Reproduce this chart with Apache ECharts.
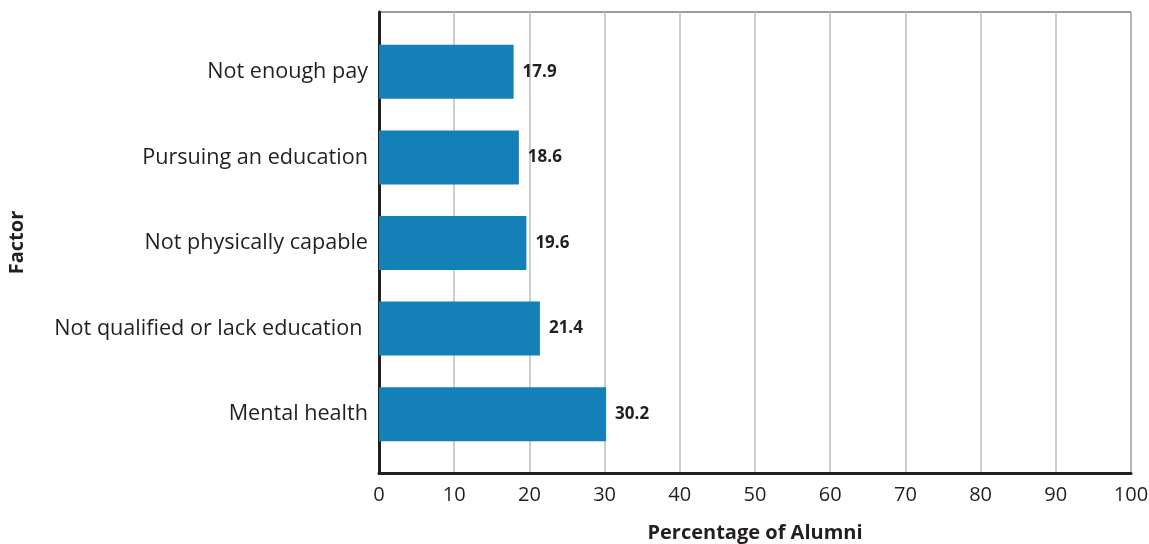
<!DOCTYPE html>
<html>
<head>
<meta charset="utf-8">
<script src="https://cdn.jsdelivr.net/npm/echarts@6/dist/echarts.min.js"></script>
<style>html,body{margin:0;padding:0;background:#fff}#c{width:1149px;height:544px}</style>
</head>
<body>
<div id="c"></div>
<script>
const categories = ['Mental health', 'Not qualified or lack education ', 'Not physically capable', 'Pursuing an education', 'Not enough pay'];
const values = [30.2, 21.4, 19.6, 18.6, 17.9];
const xTicks = [0, 10, 20, 30, 40, 50, 60, 70, 80, 90, 100];
const xAxisTitle = 'Percentage of Alumni';
const yAxisTitle = 'Factor';

const font = '"Open Sans", "Noto Sans", sans-serif';
const chart = echarts.init(document.getElementById('c'));
chart.setOption({
  animation: false,
  grid: [
    {left: 379, right: 18, top: 12, bottom: 71, show: true, borderColor: '#3a3a3a', borderWidth: 1, containLabel: false, outerBoundsMode: 'none'},
    {left: 379, right: 18, top: 29, bottom: 87, containLabel: false, outerBoundsMode: 'none'}
  ],
  xAxis: [
    {gridIndex: 0, type: 'value', min: xTicks[0], max: xTicks[xTicks.length - 1], interval: 10,
     axisLine: {show: true, lineStyle: {color: '#231f20', width: 3}},
     axisTick: {show: false},
     axisLabel: {color: '#231f20', fontSize: 20, fontFamily: font, margin: 12},
     splitLine: {show: true, lineStyle: {color: '#bdbdbd', width: 1.5}},
     name: xAxisTitle, nameLocation: 'middle', nameGap: 50,
     nameTextStyle: {color: '#231f20', fontSize: 20, fontWeight: 'bold', fontFamily: font}},
    {gridIndex: 1, type: 'value', min: 0, max: 100, show: false}
  ],
  yAxis: [
    {gridIndex: 0, type: 'value', min: 0, max: 1,
     axisLine: {show: true, lineStyle: {color: '#231f20', width: 3}},
     axisTick: {show: false}, axisLabel: {show: false}, splitLine: {show: false},
     name: yAxisTitle, nameLocation: 'middle', nameGap: 352, nameRotate: 90,
     nameTextStyle: {color: '#231f20', fontSize: 20, fontWeight: 'bold', fontFamily: font}},
    {gridIndex: 1, type: 'category', data: categories,
     axisLine: {show: false}, axisTick: {show: false},
     axisLabel: {color: '#231f20', fontSize: 21.6, fontFamily: font, margin: 11}}
  ],
  series: [{
    type: 'bar', xAxisIndex: 1, yAxisIndex: 1, data: values, barWidth: 54,
    itemStyle: {color: '#1380b8'},
    label: {show: true, position: 'right', distance: 9, color: '#231f20', fontSize: 17, fontWeight: 'bold', fontFamily: font,
            formatter: p => p.value.toFixed(1)}
  }]
});
</script>
</body>
</html>
